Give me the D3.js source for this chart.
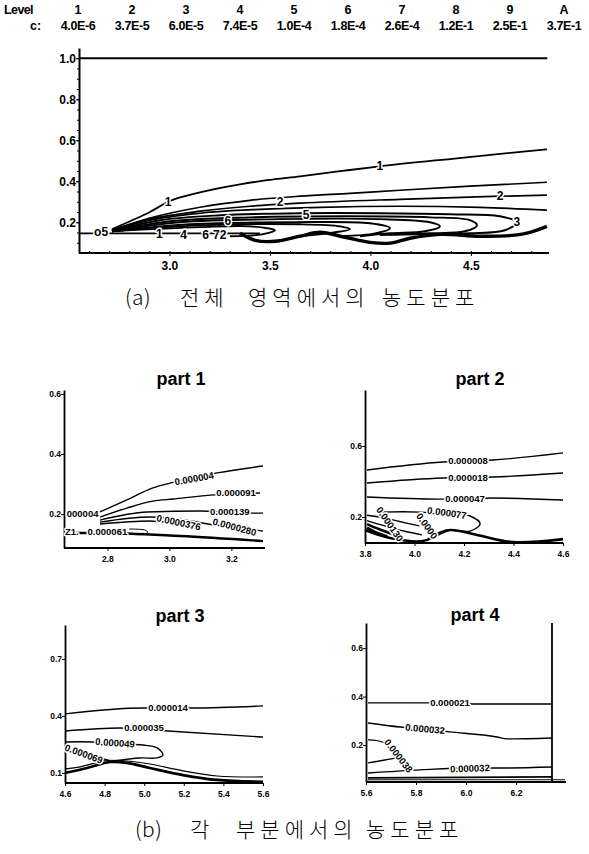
<!DOCTYPE html>
<html>
<head>
<meta charset="utf-8">
<script src="https://cdn.jsdelivr.net/npm/d3@7"></script>
<style>
body { margin: 0; background: #fff; }
svg { display: block; }
text { font-family: 'Liberation Sans', Arial, sans-serif; font-weight: bold; fill: #000; }
.cap { font-family: 'Noto Sans CJK KR', sans-serif; font-weight: 300; }
.lbl { stroke: #fff; stroke-width: 3px; paint-order: stroke; stroke-linejoin: round; }
.axis path, .axis line { stroke: #000; }
</style>
</head>
<body>
<svg></svg>
<script>
var width = 589, height = 854;

// header legend
var levels = ['1', '2', '3', '4', '5', '6', '7', '8', '9', 'A'];
var levelC = ['4.0E-6', '3.7E-5', '6.0E-5', '7.4E-5', '1.0E-4', '1.8E-4', '2.6E-4', '1.2E-1', '2.5E-1', '3.7E-1'];

// main chart (a)
var mainXTicks = [3.0, 3.5, 4.0, 4.5];
var mainYTicks = [0.2, 0.4, 0.6, 0.8, 1.0];
var mainTop = [[2.55, 1.0], [4.88, 1.0]];
var mainWall = [[2.55, 0.146], [2.714, 0.146], [3.1, 0.146], [3.45, 0.146]];
var mainC1 = [[2.714, 0.166], [2.804, 0.205], [2.903, 0.25], [2.993, 0.3], [3.152, 0.346], [3.351, 0.385], [3.485, 0.405], [3.65, 0.424], [3.849, 0.449], [4.047, 0.473], [4.43, 0.512], [4.878, 0.556]];
var mainCA = [[2.714, 0.161], [2.903, 0.22], [3.152, 0.273], [3.401, 0.307], [3.65, 0.327], [3.898, 0.341], [4.147, 0.356], [4.495, 0.376], [4.878, 0.395]];
var mainCB = [[2.714, 0.161], [2.903, 0.215], [3.152, 0.254], [3.401, 0.278], [3.65, 0.293], [4.147, 0.312], [4.645, 0.327], [4.878, 0.332]];
var mainCC = [[2.714, 0.161], [2.903, 0.21], [3.152, 0.244], [3.45, 0.263], [3.749, 0.273], [4.147, 0.278], [4.545, 0.273], [4.878, 0.259]];
var mainLoop3 = [[2.714, 0.156], [2.953, 0.21], [3.251, 0.234], [3.65, 0.244], [4.047, 0.244], [4.396, 0.239], [4.645, 0.229], [4.729, 0.2], [4.669, 0.161], [4.495, 0.146], [4.247, 0.141], [4.047, 0.137]];
var mainLoop4 = [[2.714, 0.156], [3.003, 0.205], [3.401, 0.224], [3.898, 0.229], [4.296, 0.224], [4.495, 0.21], [4.53, 0.185], [4.47, 0.156], [4.296, 0.146], [4.097, 0.141]];
var mainLoop5 = [[2.714, 0.156], [3.052, 0.2], [3.55, 0.215], [4.047, 0.215], [4.296, 0.2], [4.346, 0.18], [4.271, 0.156], [4.097, 0.146], [3.948, 0.132]];
var mainLoop6 = [[2.714, 0.156], [3.102, 0.19], [3.6, 0.2], [3.998, 0.195], [4.097, 0.171], [4.023, 0.146], [3.849, 0.132]];
var mainLoop7 = [[2.714, 0.156], [3.152, 0.185], [3.65, 0.19], [3.849, 0.18], [3.898, 0.166], [3.824, 0.151], [3.65, 0.132]];
var mainLoop8 = [[2.714, 0.156], [3.152, 0.176], [3.401, 0.18], [3.525, 0.161], [3.46, 0.141], [3.301, 0.132]];
var mainBottom = [[3.351, 0.146], [3.426, 0.112], [3.525, 0.107], [3.65, 0.132], [3.749, 0.151], [3.873, 0.127], [3.998, 0.102], [4.097, 0.098], [4.197, 0.122], [4.346, 0.141], [4.545, 0.132], [4.719, 0.137], [4.794, 0.151], [4.878, 0.18]];
var mainLabels = [
  {t: '1', x: 2.993, y: 0.3}, {t: '1', x: 4.047, y: 0.473}, {t: '2', x: 4.645, y: 0.327},
  {t: '3', x: 4.729, y: 0.2}, {t: '5', x: 3.68, y: 0.234}, {t: '6', x: 3.29, y: 0.205},
  {t: '2', x: 3.55, y: 0.3}, {t: 'o5', x: 2.66, y: 0.151}, {t: '1', x: 2.95, y: 0.146},
  {t: '4', x: 3.07, y: 0.141}, {t: '6', x: 3.18, y: 0.137}, {t: '72', x: 3.25, y: 0.141}
];

// part 1
var p1XTicks = [2.8, 3.0, 3.2];
var p1YTicks = [0.2, 0.4, 0.6];
var p1A = [[2.776, 0.207], [2.863, 0.247], [2.947, 0.287], [3.002, 0.303], [3.154, 0.337], [3.302, 0.36]];
var p1B = [[2.776, 0.19], [2.863, 0.22], [2.947, 0.243], [3.012, 0.25], [3.131, 0.263], [3.292, 0.27]];
var p1C = [[2.776, 0.18], [2.928, 0.207], [3.099, 0.21], [3.25, 0.203], [3.302, 0.203]];
var p1D = [[2.776, 0.173], [2.937, 0.19], [3.034, 0.183], [3.147, 0.163], [3.244, 0.153], [3.302, 0.143]];
var p1E = [[2.776, 0.167], [2.937, 0.177], [3.0, 0.17], [3.08, 0.153]];
var p1Loop = [[2.87, 0.15], [2.92, 0.147], [2.93, 0.14], [2.92, 0.133], [2.87, 0.133]];
var p1Bottom = [[2.66, 0.137], [2.776, 0.137], [3.034, 0.127], [3.302, 0.11]];
var p1Labels = [
  {t: '0.000004', x: 3.08, y: 0.318, r: -10}, {t: '0.000091', x: 3.215, y: 0.27, r: 0},
  {t: '0.000139', x: 3.195, y: 0.207, r: 0}, {t: '0.0000376', x: 3.03, y: 0.172, r: 12},
  {t: '0.0000280', x: 3.21, y: 0.157, r: 15}, {t: '000004', x: 2.72, y: 0.2, r: 0},
  {t: 'Z1.', x: 2.685, y: 0.143, r: 0}, {t: '0.000061', x: 2.8, y: 0.14, r: 0}
];

// part 2
var p2XTicks = [3.8, 4.0, 4.2, 4.4, 4.6];
var p2YTicks = [0.2, 0.6];
var p2A = [[3.808, 0.465], [4.115, 0.51], [4.317, 0.521], [4.6, 0.561]];
var p2B = [[3.808, 0.392], [4.115, 0.42], [4.317, 0.425], [4.6, 0.448]];
var p2C = [[3.808, 0.313], [4.103, 0.301], [4.317, 0.307], [4.6, 0.296]];
var p2D = [[3.861, 0.228], [4.022, 0.228], [4.224, 0.206], [4.265, 0.161], [4.224, 0.121], [4.131, 0.127], [4.087, 0.104]];
var p2E = [[3.808, 0.21], [3.86, 0.2], [3.94, 0.175], [4.02, 0.15]];
var p2F = [[3.808, 0.18], [3.88, 0.15], [3.96, 0.12], [4.03, 0.1]];
var p2G = [[3.808, 0.16], [3.86, 0.13], [3.92, 0.1]];
var p2H = [[3.808, 0.14], [3.85, 0.11], [3.89, 0.09]];
var p2Bottom = [[3.8, 0.127], [3.901, 0.082], [4.034, 0.065], [4.091, 0.099], [4.143, 0.127], [4.253, 0.099], [4.398, 0.059], [4.6, 0.076]];
var p2Labels = [
  {t: '0.000008', x: 4.216, y: 0.515, r: 0}, {t: '0.000018', x: 4.216, y: 0.42, r: 0},
  {t: '0.000047', x: 4.204, y: 0.301, r: 0}, {t: '0.000077', x: 4.131, y: 0.223, r: 8},
  {t: '0.000130', x: 3.9, y: 0.16, r: 55}, {t: '0.0000', x: 4.05, y: 0.15, r: 55}
];

// part 3
var p3XTicks = [4.6, 4.8, 5.0, 5.2, 5.4, 5.6];
var p3YTicks = [0.1, 0.4, 0.7];
var p3A = [[4.6, 0.411], [4.994, 0.442], [5.246, 0.442], [5.6, 0.453]];
var p3B = [[4.6, 0.321], [4.878, 0.337], [5.12, 0.321], [5.6, 0.289]];
var p3C = [[4.6, 0.263], [4.741, 0.263], [4.868, 0.253], [4.994, 0.247], [5.065, 0.232], [5.095, 0.195], [5.065, 0.179], [4.979, 0.179], [4.842, 0.163]];
var p3D = [[4.6, 0.226], [4.676, 0.205], [4.777, 0.179], [4.827, 0.163]];
var p3E = [[4.6, 0.121], [4.676, 0.132], [4.752, 0.153], [4.802, 0.168]];
var p3Thick = [[4.6, 0.1], [4.711, 0.126], [4.827, 0.158], [4.913, 0.153], [5.029, 0.126], [5.196, 0.089], [5.368, 0.063], [5.6, 0.053]];
var p3Thin = [[4.777, 0.168], [4.913, 0.163], [5.029, 0.147], [5.196, 0.111], [5.368, 0.084], [5.6, 0.079]];
var p3Labels = [
  {t: '0.000014', x: 5.12, y: 0.442, r: 0}, {t: '0.000035', x: 4.999, y: 0.337, r: 0},
  {t: '0.000049', x: 4.853, y: 0.258, r: 4}, {t: '0.000069', x: 4.695, y: 0.2, r: 20}
];

// part 4
var p4XTicks = [5.6, 5.8, 6.0, 6.2];
var p4YTicks = [0.2, 0.4, 0.6];
var p4A = [[5.608, 0.374], [5.844, 0.374], [6.028, 0.369], [6.344, 0.369]];
var p4B = [[5.608, 0.291], [5.736, 0.274], [5.936, 0.254], [6.124, 0.233], [6.164, 0.225], [6.344, 0.229]];
var p4C = [[5.608, 0.221], [5.676, 0.208], [5.784, 0.105]];
var p4D = [[5.608, 0.126], [5.676, 0.138], [5.736, 0.15]];
var p4E = [[5.608, 0.084], [5.816, 0.097], [6.016, 0.105], [6.148, 0.105], [6.344, 0.109]];
var p4F = [[5.608, 0.064], [6.344, 0.068]];
var p4G = [[5.608, 0.056], [6.396, 0.056]];
var p4Wall = [[6.344, 0.047], [6.344, 0.704]];
var p4Labels = [
  {t: '0.000021', x: 5.936, y: 0.374, r: 0}, {t: '0.000032', x: 5.836, y: 0.266, r: 5},
  {t: '0.000038', x: 5.73, y: 0.155, r: 52}, {t: '0.000032', x: 6.016, y: 0.103, r: -2}
];

var svg = d3.select('svg')
    .attr('width', width)
    .attr('height', height);

var line = d3.line().curve(d3.curveMonotoneX);
var lineFree = d3.line().curve(d3.curveCatmullRom);

function makePanel(p) {
    var x = d3.scaleLinear().domain(p.xd).range(p.xr);
    var y = d3.scaleLinear().domain(p.yd).range(p.yr);
    var g = svg.append('g');

    if (p.minor) {
        g.append('g')
            .attr('class', 'axis')
            .attr('transform', 'translate(0,' + p.yr[0] + ')')
            .call(d3.axisBottom(x).tickValues(d3.range(2.6, 4.85, 0.1)).tickSize(-2).tickFormat(''))
            .call(function(a) { a.select('.domain').remove(); });
        g.append('g')
            .attr('class', 'axis')
            .attr('transform', 'translate(' + p.xr[0] + ',0)')
            .call(d3.axisLeft(y).tickValues(d3.range(0.1, 1.05, 0.05)).tickSize(2).tickFormat(''))
            .call(function(a) { a.select('.domain').remove(); });
    }

    g.append('g')
        .attr('class', 'axis')
        .attr('transform', 'translate(0,' + p.yr[0] + ')')
        .call(d3.axisBottom(x).tickValues(p.xt).tickSize(3).tickSizeOuter(0).tickFormat(d3.format('.1f')))
        .call(function(a) {
            a.select('.domain').attr('stroke-width', p.sw).attr('d', 'M' + p.xr[0] + ',0H' + (p.xEnd || p.xr[1]));
            a.selectAll('text').attr('font-size', p.fs).attr('dy', p.fs * 0.9);
        });

    g.append('g')
        .attr('class', 'axis')
        .attr('transform', 'translate(' + p.xr[0] + ',0)')
        .call(d3.axisLeft(y).tickValues(p.yt).tickSize(3).tickSizeOuter(0).tickFormat(d3.format('.1f')))
        .call(function(a) {
            a.select('.domain').attr('stroke-width', p.sw);
            a.selectAll('text').attr('font-size', p.fs).attr('x', -3);
        });

    if (p.title) {
        g.append('text')
            .attr('x', p.tx).attr('y', p.ty)
            .attr('text-anchor', 'middle')
            .attr('font-size', 18)
            .style('font-weight', 600)
            .text(p.title);
    }
    return {x: x, y: y, g: g};
}

function drawLines(pn, sets) {
    sets.forEach(function(s) {
        pn.g.append('path')
            .datum(s.d)
            .attr('fill', 'none')
            .attr('stroke', '#000')
            .attr('stroke-width', s.w || 1.4)
            .attr('stroke-linejoin', 'round')
            .attr('d', (s.free ? lineFree : line).x(function(d) { return pn.x(d[0]); }).y(function(d) { return pn.y(d[1]); }));
    });
}

function drawLabels(pn, labels, fs) {
    pn.g.selectAll(null)
        .data(labels)
        .enter().append('text')
        .attr('class', 'lbl')
        .attr('font-size', fs)
        .attr('text-anchor', 'middle')
        .attr('dy', '0.35em')
        .attr('transform', function(d) {
            return 'translate(' + pn.x(d.x) + ',' + pn.y(d.y) + ') rotate(' + (d.r || 0) + ')';
        })
        .text(function(d) { return d.t; });
}

// one text per word, placed where the scan puts it
function caption(words, xs, y) {
    words.forEach(function(w, i) {
        svg.append('text')
            .attr('class', 'cap')
            .attr('x', xs[i])
            .attr('y', y)
            .attr('font-size', 21)
            .attr('letter-spacing', i === 0 ? 0.5 : 5)
            .text(w);
    });
}

// header
svg.append('text').attr('x', 4).attr('y', 14).attr('font-size', 12.5).attr('letter-spacing', -0.6).text('Level');
svg.append('text').attr('x', 30).attr('y', 30).attr('font-size', 12.5).text('c:');
var hx = d3.scalePoint().domain(levels).range([78, 564]);
svg.selectAll('.lvl')
    .data(levels)
    .enter().append('text')
    .attr('class', 'lvl')
    .attr('x', function(d) { return hx(d); })
    .attr('y', 14)
    .attr('text-anchor', 'middle')
    .attr('font-size', 12.5)
    .text(function(d) { return d; });
svg.selectAll('.cval')
    .data(levelC)
    .enter().append('text')
    .attr('class', 'cval')
    .attr('x', function(d, i) { return hx(levels[i]); })
    .attr('y', 30)
    .attr('text-anchor', 'middle')
    .attr('font-size', 12.5)
    .attr('letter-spacing', -0.4)
    .text(function(d) { return d; });

// (a) main
var pm = makePanel({xd: [2.55, 4.88], xr: [79, 547.3], yd: [0.05, 1.05], yr: [253, 48], xt: mainXTicks, yt: mainYTicks, fs: 12, sw: 2, xEnd: 549, minor: true});
drawLines(pm, [
    {d: mainTop, w: 1.8}, {d: mainWall, w: 1.8}, {d: mainC1, w: 1.8},
    {d: mainCA, w: 1.7}, {d: mainCB, w: 1.7}, {d: mainCC, w: 1.7},
    {d: mainLoop3, free: true, w: 1.9}, {d: mainLoop4, free: true, w: 1.9}, {d: mainLoop5, free: true, w: 1.9},
    {d: mainLoop6, free: true, w: 1.9}, {d: mainLoop7, free: true, w: 1.9}, {d: mainLoop8, free: true, w: 1.9},
    {d: mainBottom, free: true, w: 3.4}
]);
drawLabels(pm, mainLabels, 12);

// captions
caption(['(a)', '전체', '영역에서의', '농도분포'], [125, 180, 248, 382], 305);
caption(['(b)', '각', '부분에서의', '농도분포'], [135, 190, 236, 366], 837);

// (b) parts
var pp1 = makePanel({xd: [2.66, 3.302], xr: [64, 263], yd: [0.087, 0.613], yr: [548, 390], xt: p1XTicks, yt: p1YTicks, fs: 8.5, sw: 1.8, xEnd: 265, title: 'part 1', tx: 181, ty: 385});
drawLines(pp1, [
    {d: p1A}, {d: p1B}, {d: p1C}, {d: p1D}, {d: p1E}, {d: p1Loop, free: true, w: 1}, {d: p1Bottom, w: 2.4}
]);
drawLabels(pp1, p1Labels, 9.5);

var pp2 = makePanel({xd: [3.8, 4.6], xr: [365, 563], yd: [0.054, 0.915], yr: [543, 390], xt: p2XTicks, yt: p2YTicks, fs: 8.5, sw: 1.8, title: 'part 2', tx: 480, ty: 385});
drawLines(pp2, [
    {d: p2A}, {d: p2B}, {d: p2C}, {d: p2D, free: true}, {d: p2E, free: true}, {d: p2F, free: true},
    {d: p2G, free: true, w: 2.5}, {d: p2H, free: true, w: 3}, {d: p2Bottom, free: true, w: 2.6}
]);
drawLabels(pp2, p2Labels, 9.5);

var pp3 = makePanel({xd: [4.6, 5.6], xr: [65, 263], yd: [0.047, 0.879], yr: [783, 625], xt: p3XTicks, yt: p3YTicks, fs: 8.5, sw: 1.8, title: 'part 3', tx: 180, ty: 622});
drawLines(pp3, [
    {d: p3A}, {d: p3B}, {d: p3C, free: true}, {d: p3D, free: true}, {d: p3E, free: true},
    {d: p3Thick, free: true, w: 2.8}, {d: p3Thin, free: true, w: 1.1}
]);
drawLabels(pp3, p3Labels, 9.5);

var pp4 = makePanel({xd: [5.6, 6.4], xr: [366, 566], yd: [0.047, 0.704], yr: [782, 623], xt: p4XTicks, yt: p4YTicks, fs: 8.5, sw: 1.8, title: 'part 4', tx: 475, ty: 621});
drawLines(pp4, [
    {d: p4A}, {d: p4B}, {d: p4C, free: true}, {d: p4D, free: true}, {d: p4E}, {d: p4F, w: 1.8}, {d: p4G, w: 1.1}, {d: p4Wall, w: 1.8}
]);
drawLabels(pp4, p4Labels, 9.5);
</script>
</body>
</html>
